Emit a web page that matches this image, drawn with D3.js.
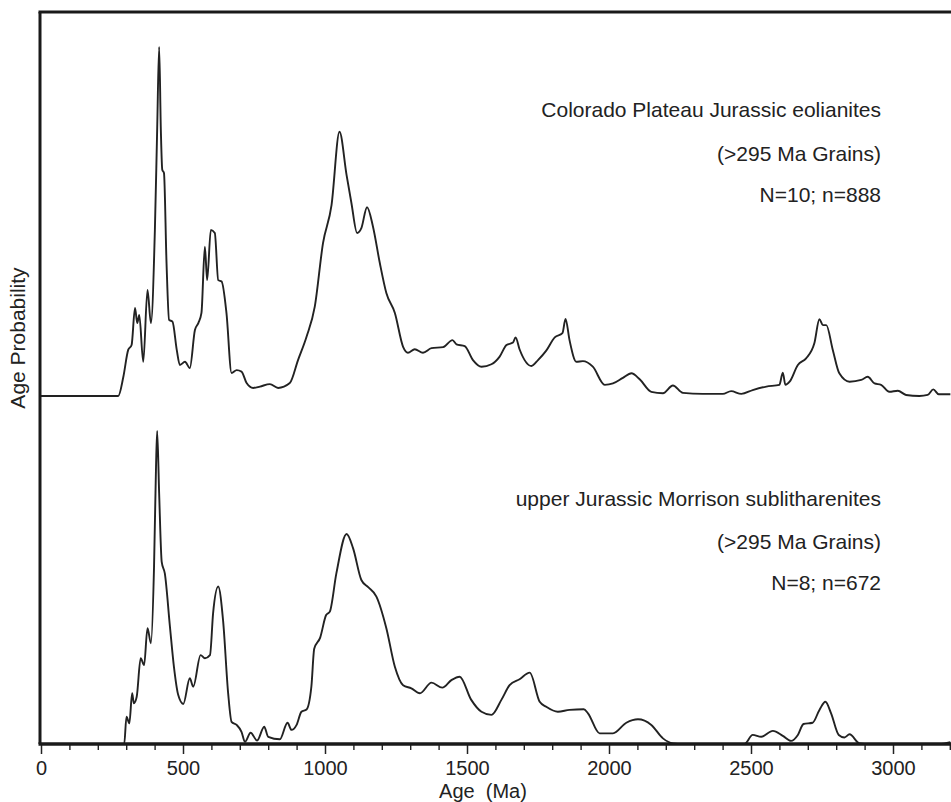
<!DOCTYPE html>
<html>
<head>
<meta charset="utf-8">
<script src="https://cdn.jsdelivr.net/npm/d3@7"></script>
<style>
  html, body { margin: 0; padding: 0; background: #fff; }
  svg { display: block; }
  text { font-family: "Liberation Sans", Arial, sans-serif; fill: #222; }
</style>
</head>
<body>
<svg id="chart" width="951" height="802"></svg>
<script>
// ---- data (age in Ma, relative probability; 1 = tallest peak of each curve) ----
const topAges = [0,272,290,307,319,331,339,346,360,375,387,401,409,416,422,427,433,442,451,463,478,489,507,524,542,554,565,577,585,598,612,624,636,653,671,689,706,724,747,771,806,835,876,905,935,964,993,1023,1051,1076,1093,1113,1128,1148,1169,1193,1216,1246,1275,1292,1316,1345,1375,1416,1449,1463,1492,1521,1551,1586,1615,1639,1662,1671,1685,1727,1750,1779,1809,1836,1847,1861,1885,1908,1943,1985,2014,2049,2079,2108,2149,2190,2225,2260,2330,2401,2430,2466,2506,2554,2600,2612,2621,2636,2665,2694,2723,2741,2753,2765,2788,2811,2847,2888,2911,2935,2958,2987,3017,3046,3093,3122,3142,3161,3202];
const topValues = [0,0,0.055,0.132,0.146,0.252,0.209,0.232,0.098,0.304,0.209,0.476,0.762,1.0,0.762,0.648,0.639,0.381,0.218,0.213,0.132,0.089,0.098,0.080,0.189,0.209,0.238,0.428,0.332,0.476,0.467,0.332,0.328,0.238,0.066,0.074,0.070,0.037,0.023,0.027,0.034,0.023,0.037,0.103,0.170,0.256,0.438,0.547,0.757,0.633,0.553,0.467,0.481,0.541,0.485,0.381,0.295,0.238,0.141,0.124,0.134,0.124,0.137,0.140,0.160,0.148,0.143,0.103,0.084,0.091,0.113,0.146,0.153,0.168,0.134,0.086,0.103,0.130,0.168,0.180,0.221,0.160,0.098,0.100,0.084,0.032,0.036,0.052,0.065,0.048,0.012,0.008,0.030,0.009,0.006,0.006,0.014,0.006,0.017,0.027,0.032,0.067,0.032,0.041,0.089,0.108,0.151,0.220,0.203,0.203,0.132,0.065,0.041,0.046,0.055,0.036,0.032,0.012,0.015,0.003,0,0.003,0.019,0.005,0.005];

const bottomAges = [0,293,301,311,321,327,337,351,363,375,387,398,405,409,416,425,436,454,468,483,501,524,536,562,577,595,606,624,641,659,671,689,706,718,738,761,786,800,841,868,882,900,917,935,952,962,983,1004,1017,1040,1076,1099,1128,1152,1181,1216,1246,1275,1304,1334,1375,1413,1445,1474,1515,1551,1586,1621,1650,1685,1721,1756,1779,1820,1861,1911,1926,1967,2014,2061,2102,2149,2190,2225,2260,2477,2506,2536,2577,2612,2641,2665,2685,2717,2741,2762,2782,2809,2829,2847,2882,2917,3163,3202];
const bottomValues = [0,0,0.087,0.066,0.162,0.130,0.151,0.274,0.252,0.370,0.322,0.566,0.886,1.0,0.801,0.582,0.545,0.375,0.247,0.157,0.128,0.210,0.183,0.284,0.274,0.284,0.418,0.503,0.396,0.162,0.071,0.061,0.039,0.007,0.036,0.011,0.055,0.023,0.015,0.068,0.045,0.061,0.103,0.110,0.183,0.304,0.340,0.412,0.423,0.545,0.671,0.625,0.524,0.501,0.471,0.370,0.247,0.188,0.178,0.162,0.196,0.180,0.204,0.215,0.141,0.103,0.093,0.141,0.188,0.207,0.228,0.135,0.119,0.103,0.109,0.111,0.098,0.034,0.034,0.068,0.079,0.061,0.018,0.002,0,0,0.029,0.023,0.042,0.026,0.010,0.029,0.064,0.068,0.109,0.135,0.098,0.029,0.021,0.031,0.002,0,0,0.006];

const xTickValues = [0,500,1000,1500,2000,2500,3000];
const xMinorTickValues = d3.range(0, 3300, 100).filter(v => v % 500 !== 0);
const topLabels = ["Colorado Plateau Jurassic eolianites", "(>295 Ma Grains)", "N=10; n=888"];
const bottomLabels = ["upper Jurassic Morrison sublitharenites", "(>295 Ma Grains)", "N=8; n=672"];
const xTitle = "Age\u00a0\u00a0(Ma)";
const yTitle = "Age Probability";

// ---- layout ----
const svg = d3.select("#chart");
const left = 41, right = 951;
const x = d3.scaleLinear().domain([0, 3000]).range([left, 893]);
const yTop = d3.scaleLinear().domain([0, 1]).range([396, 47]);
const yBottom = d3.scaleLinear().domain([0, 1]).range([744, 431]);
const axisY = 744, frameTop = 12;

const line = (ys) => d3.line().x(d => x(d[0])).y(d => ys(d[1])).curve(d3.curveMonotoneX);

svg.append("path")
  .datum(d3.zip(topAges, topValues))
  .attr("d", line(yTop))
  .attr("fill", "none").attr("stroke", "#222").attr("stroke-width", 1.9).attr("stroke-linejoin", "round");

svg.append("path")
  .datum(d3.zip(bottomAges, bottomValues))
  .attr("d", line(yBottom))
  .attr("fill", "none").attr("stroke", "#222").attr("stroke-width", 1.9).attr("stroke-linejoin", "round");

// frame: top border and left axis
svg.append("line").attr("x1", left - 2.5).attr("x2", right).attr("y1", frameTop).attr("y2", frameTop)
  .attr("stroke", "#1a1a1a").attr("stroke-width", 3);
svg.append("line").attr("x1", left - 1).attr("x2", left - 1).attr("y1", frameTop).attr("y2", axisY)
  .attr("stroke", "#1a1a1a").attr("stroke-width", 3);

// x axis: minor ticks
svg.append("g").attr("transform", `translate(0,${axisY})`)
  .call(d3.axisBottom(x).tickValues(xMinorTickValues).tickSize(6).tickFormat(""))
  .call(g => g.select(".domain").remove())
  .call(g => g.selectAll(".tick line").attr("stroke", "#222").attr("stroke-width", 1.4));
// x axis: major ticks + labels
svg.append("g").attr("transform", `translate(0,${axisY})`)
  .call(d3.axisBottom(x).tickValues(xTickValues).tickSize(10).tickPadding(7).tickFormat(d3.format("d")))
  .call(g => g.select(".domain").remove())
  .call(g => g.selectAll(".tick line").attr("stroke", "#222").attr("stroke-width", 1.5))
  .call(g => g.selectAll(".tick text").attr("font-size", 20).attr("fill", "#222")
        .attr("font-family", "'Liberation Sans', Arial, sans-serif"));
svg.append("line").attr("x1", left - 2.5).attr("x2", right).attr("y1", axisY).attr("y2", axisY)
  .attr("stroke", "#1a1a1a").attr("stroke-width", 3.5);

// titles
svg.append("text").attr("x", 483).attr("y", 798).attr("text-anchor", "middle")
  .attr("font-size", 20).text(xTitle);
svg.append("text").attr("transform", "translate(25,338) rotate(-90)").attr("text-anchor", "middle")
  .attr("font-size", 21).text(yTitle);

// panel annotations
const topY = [117, 161, 202];
const botY = [506, 549, 590];
topLabels.forEach((t, i) => svg.append("text").attr("x", 881).attr("y", topY[i])
  .attr("text-anchor", "end").attr("font-size", 21).text(t));
bottomLabels.forEach((t, i) => svg.append("text").attr("x", 881).attr("y", botY[i])
  .attr("text-anchor", "end").attr("font-size", 21).text(t));
</script>
</body>
</html>
